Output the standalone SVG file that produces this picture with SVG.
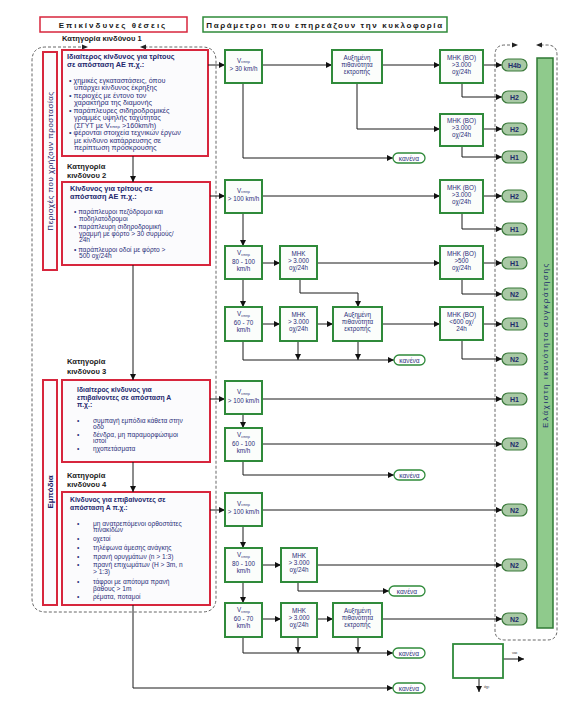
<svg xmlns="http://www.w3.org/2000/svg" width="570" height="703" viewBox="0 0 570 703">
<defs>
<marker id="ah" viewBox="0 0 10 10" refX="10" refY="5" markerWidth="6" markerHeight="6" orient="auto" markerUnits="userSpaceOnUse"><path d="M0,0 L10,5 L0,10 z" fill="#111"/></marker>
<style>
.rb{fill:#fbfbfd;stroke:#d7263d;stroke-width:2}
.gb{fill:#fbfdfb;stroke:#2f8a3a;stroke-width:2}
.pill{fill:#a9c9a5;stroke:#3b7a3b;stroke-width:1.2}
.kan{fill:#fff;stroke:#2f8a3a;stroke-width:1.3}
.ln{stroke:#1a1a1a;stroke-width:1;fill:none;marker-end:url(#ah)}
.dash{stroke:#555;stroke-width:0.9;fill:none;stroke-dasharray:3,2}
.t{font-family:"Liberation Sans",Arial,sans-serif;fill:#2b2f7a;font-size:7.2px}
.t2{font-family:"Liberation Sans",Arial,sans-serif;fill:#2b2f7a;font-size:6.6px}
.tb{font-family:"Liberation Sans",Arial,sans-serif;fill:#23286e;font-size:7.3px;font-weight:bold}
.tb2{font-family:"Liberation Sans",Arial,sans-serif;fill:#23286e;font-size:6.8px;font-weight:bold}
.g{font-family:"Liberation Sans",Arial,sans-serif;fill:#2b2f7a;font-size:6.3px;text-anchor:middle}
.p{font-family:"Liberation Sans",Arial,sans-serif;fill:#1d2a6b;font-size:7px;font-weight:bold;text-anchor:middle}
.k{font-family:"Liberation Sans",Arial,sans-serif;fill:#2b2f7a;font-size:6.6px;text-anchor:middle}
.cat{font-family:"Liberation Sans",Arial,sans-serif;fill:#1a1a1a;font-size:7.6px;font-weight:bold}
.hd{font-family:"Liberation Sans",Arial,sans-serif;fill:#1a1a1a;font-size:8px;font-weight:bold;letter-spacing:2px}
</style>
</defs>
<rect width="570" height="703" fill="#fff"/>

<g id="header-left"><rect x="40" y="17" width="147" height="15" fill="#fff" stroke="#d7263d" stroke-width="1.5"/><text class="hd" x="113" y="27.5" text-anchor="middle">Επικίνδυνες θέσεις</text></g>
<g id="header-right"><rect x="203" y="17" width="244" height="15" fill="#fff" stroke="#2f8a3a" stroke-width="1.5"/><text class="hd" x="325" y="27.5" text-anchor="middle" style="letter-spacing:1.6px">Παράμετροι που επηρεάζουν την κυκλοφορία</text></g>

<g id="region-left">
<path class="dash" d="M86,47 H46 Q32,47 32,61 V598 Q32,612 46,612 H202 Q216,612 216,598 V61 Q216,47 202,47 H142"/>
<path d="M82,44.5 L88,47 L82,49.5 z" fill="#222"/><path d="M146,44.5 L140,47 L146,49.5 z" fill="#222"/>
</g>
<g id="region-right">
<path class="dash" d="M515,45 H505 Q495,45 495,55 V630 Q495,640 505,640 H547 Q557,640 557,630 V55 Q557,45 547,45 H539"/>
<path d="M512,42.5 L518,45 L512,47.5 z" fill="#222"/><path d="M542,42.5 L536,45 L542,47.5 z" fill="#222"/>
</g>

<text class="cat" x="62" y="41">Κατηγορία κινδύνου 1</text>
<g><text class="cat" x="67" y="169">Κατηγορία</text><text class="cat" x="67" y="178">κινδύνου 2</text></g>
<g><text class="cat" x="67" y="364">Κατηγορία</text><text class="cat" x="67" y="374">κινδύνου 3</text></g>
<g><text class="cat" x="67" y="477.5">Κατηγορία</text><text class="cat" x="67" y="486.5">κινδύνου 4</text></g>

<g id="side-protect"><rect class="rb" x="43" y="52" width="14" height="218"/><text transform="translate(53,161) rotate(-90)" text-anchor="middle" style="font-family:'Liberation Sans',Arial,sans-serif;font-size:8px;fill:#1d2266;letter-spacing:0.5px">Περιοχές που χρήζουν προστασίας</text></g>
<g id="side-obstacles"><rect class="rb" x="43" y="380" width="14" height="225"/><text transform="translate(53,492) rotate(-90)" text-anchor="middle" style="font-family:'Liberation Sans',Arial,sans-serif;font-size:8px;font-weight:bold;fill:#1d2266">Εμπόδια</text></g>

<g id="cat1">
<rect class="rb" x="62" y="50" width="146" height="106"/>
<text class="tb" x="67" y="59">Ιδιαίτερος κίνδυνος για τρίτους</text>
<text class="tb" x="67" y="66.5">σε απόσταση ΑΕ π.χ.:</text>
<g class="t">
<text x="69" y="82.5">• χημικές εγκαταστάσεις, όπου</text>
<text x="74" y="90">υπάρχει κίνδυνος έκρηξης</text>
<text x="69" y="97.5">• περιοχές με έντονο τον</text>
<text x="74" y="105">χαρακτήρα της διαμονής</text>
<text x="69" y="112.5">• παράπλευρες σιδηροδρομικές</text>
<text x="74" y="120">γραμμές υψηλής ταχύτητας</text>
<text x="74" y="127.5">(ΣΓΥΤ με V<tspan font-size="4.3" dy="0.8">επιτρ</tspan><tspan dy="-0.8"> &gt;160km/h)</tspan></text>
<text x="69" y="135">• φέρονται στοιχεία τεχνικών έργων</text>
<text x="74" y="142.5">με κίνδυνο κατάρρευσης σε</text>
<text x="74" y="150">περίπτωση πρόσκρουσης</text>
</g>
</g>

<g id="cat2">
<rect class="rb" x="62" y="182" width="148" height="83"/>
<text class="tb" x="70" y="191">Κίνδυνος για τρίτους σε</text>
<text class="tb" x="70" y="198.5">απόσταση ΑΕ π.χ.:</text>
<g class="t2">
<text x="74" y="214">• παράπλευροι πεζόδρομοι και</text>
<text x="79" y="220.5">ποδηλατόδρομοι</text>
<text x="74" y="229">• παράπλευρη σιδηροδρομική</text>
<text x="79" y="235.5">γραμμή με φόρτο &gt; 30 συρμούς/</text>
<text x="79" y="242">24h</text>
<text x="74" y="251.5">• παράπλευροι οδοί με φόρτο &gt;</text>
<text x="79" y="258">500 οχ/24h</text>
</g>
</g>

<g id="cat3">
<rect class="rb" x="62" y="380" width="148" height="82"/>
<text class="tb2" x="77" y="392">Ιδιαίτερος κίνδυνος για</text>
<text class="tb2" x="77" y="399.5">επιβαίνοντες σε απόσταση Α</text>
<text class="tb2" x="77" y="407">π.χ.:</text>
<g class="t2">
<text x="77" y="422.5">•</text><text x="93" y="422.5">συμπαγή εμπόδια κάθετα στην</text>
<text x="93" y="428.7">οδό</text>
<text x="77" y="436.5">•</text><text x="93" y="436.5">δένδρα, μη παραμορφώσιμοι</text>
<text x="93" y="442.7">ιστοί</text>
<text x="77" y="450.5">•</text><text x="93" y="450.5">ηχοπετάσματα</text>
</g>
</g>

<g id="cat4">
<rect class="rb" x="62" y="492" width="148" height="113"/>
<text class="tb2" x="70" y="502">Κίνδυνος για επιβαίνοντες σε</text>
<text class="tb2" x="70" y="509.8">απόσταση Α π.χ.:</text>
<g class="t2">
<text x="77" y="525.5">•</text><text x="93" y="525.5">μη ανατρεπόμενοι ορθοστάτες</text>
<text x="93" y="532">πινακίδων</text>
<text x="77" y="540.5">•</text><text x="93" y="540.5">οχετοί</text>
<text x="77" y="550">•</text><text x="93" y="550">τηλέφωνα άμεσης ανάγκης</text>
<text x="77" y="558.5">•</text><text x="93" y="558.5">πρανή ορυγμάτων (n &gt; 1:3)</text>
<text x="77" y="567">•</text><text x="93" y="567">πρανή επιχωμάτων (H &gt; 3m, n</text>
<text x="93" y="574">&gt; 1:3)</text>
<text x="77" y="583.5">•</text><text x="93" y="583.5">τάφροι με απότομα πρανή</text>
<text x="93" y="590.5">βάθους &gt; 1m</text>
<text x="77" y="598.5">•</text><text x="93" y="598.5">ρέματα, ποταμοί</text>
</g>
</g>

<g id="connectors">
<path class="ln" d="M133,156 V182"/>
<path class="ln" d="M133,265 V380"/>
<path class="ln" d="M133,462 V492"/>
<path class="ln" d="M133,605 V688 H393"/>
<path class="ln" d="M208,65 H225"/>
<path class="ln" d="M210,196 H225"/>
<path class="ln" d="M210,399 H225"/>
<path class="ln" d="M210,510 H225"/>
<path class="ln" d="M262,65 H332"/>
<path class="ln" d="M382,65 H440"/>
<path class="ln" d="M357,83 V129 H440"/>
<path class="ln" d="M243,83 V158 H393"/>
<path class="ln" d="M483,65 H502"/>
<path class="ln" d="M462,83 V97 H502"/>
<path class="ln" d="M483,129 H502"/>
<path class="ln" d="M462,146 V157 H502"/>
<path class="ln" d="M262,196 H440"/>
<path class="ln" d="M483,196 H502"/>
<path class="ln" d="M462,213 V229 H502"/>
<path class="ln" d="M243,213 V246"/>
<path class="ln" d="M262,263 H280"/>
<path class="ln" d="M317,263 H440"/>
<path class="ln" d="M483,263 H502"/>
<path class="ln" d="M462,279 V294 H502"/>
<path class="ln" d="M300,279 V293 H358 V307"/>
<path class="ln" d="M243,279 V307"/>
<path class="ln" d="M262,324 H280"/>
<path class="ln" d="M317,324 H333"/>
<path class="ln" d="M382,324 H440"/>
<path class="ln" d="M483,324 H502"/>
<path class="ln" d="M462,340 V359 H502"/>
<path class="ln" d="M243,341 V360 H394"/>
<path class="ln" d="M298,341 V360"/>
<path class="ln" d="M358,341 V360"/>
<path class="ln" d="M262,399 H502"/>
<path class="ln" d="M243,414 V428"/>
<path class="ln" d="M262,444 H502"/>
<path class="ln" d="M243,461 V475 H394"/>
<path class="ln" d="M262,510 H502"/>
<path class="ln" d="M243,526 V548"/>
<path class="ln" d="M262,565 H281"/>
<path class="ln" d="M317,565 H502"/>
<path class="ln" d="M298,582 V591 H389"/>
<path class="ln" d="M243,582 V603"/>
<path class="ln" d="M262,619 H281"/>
<path class="ln" d="M317,619 H333"/>
<path class="ln" d="M382,619 H502"/>
<path class="ln" d="M243,637 V653 H393"/>
<path class="ln" d="M298,637 V653"/>
<path class="ln" d="M358,637 V653"/>
<path class="ln" d="M503,659 H524"/>
<path class="ln" d="M479,678 V692"/>
</g>

<g id="v30"><rect class="gb" x="225" y="50" width="37" height="33"/><text class="g" x="243.5" y="62.5">V<tspan font-size="3.8" dy="0.8">επιτρ</tspan></text><text class="g" x="243.5" y="71">&gt; 30 km/h</text></g>
<g id="aux1"><rect class="gb" x="332" y="50" width="50" height="33"/><text class="g" x="357" y="60">Αυξημένη</text><text class="g" x="357" y="67">πιθανότητα</text><text class="g" x="357" y="74">εκτροπής</text></g>
<g id="mhkbo1"><rect class="gb" x="440" y="50" width="43" height="33"/><text class="g" x="461.5" y="60">ΜΗΚ (ΒΟ)</text><text class="g" x="461.5" y="67">&gt;3.000</text><text class="g" x="461.5" y="74">οχ/24h</text></g>
<g id="mhkbo2"><rect class="gb" x="440" y="114" width="43" height="32"/><text class="g" x="461.5" y="123">ΜΗΚ (ΒΟ)</text><text class="g" x="461.5" y="130">&gt;3.000</text><text class="g" x="461.5" y="137">οχ/24h</text></g>

<g id="v100a"><rect class="gb" x="225" y="180" width="37" height="33"/><text class="g" x="243.5" y="192.5">V<tspan font-size="3.8" dy="0.8">επιτρ</tspan></text><text class="g" x="243.5" y="201">&gt; 100 km/h</text></g>
<g id="mhkbo3"><rect class="gb" x="440" y="180" width="43" height="33"/><text class="g" x="461.5" y="190">ΜΗΚ (ΒΟ)</text><text class="g" x="461.5" y="197">&gt;3.000</text><text class="g" x="461.5" y="204">οχ/24h</text></g>
<g id="v80a"><rect class="gb" x="225" y="246" width="37" height="33"/><text class="g" x="243.5" y="255">V<tspan font-size="3.8" dy="0.8">επιτρ</tspan></text><text class="g" x="243.5" y="263.5">80 - 100</text><text class="g" x="243.5" y="270.5">km/h</text></g>
<g id="mhka"><rect class="gb" x="280" y="246" width="37" height="33"/><text class="g" x="298.5" y="256">ΜΗΚ</text><text class="g" x="298.5" y="263">&gt; 3.000</text><text class="g" x="298.5" y="270">οχ/24h</text></g>
<g id="mhkbo4"><rect class="gb" x="440" y="246" width="43" height="33"/><text class="g" x="461.5" y="256">ΜΗΚ (ΒΟ)</text><text class="g" x="461.5" y="263">&gt;500</text><text class="g" x="461.5" y="270">οχ/24h</text></g>
<g id="v60a"><rect class="gb" x="225" y="307" width="37" height="34"/><text class="g" x="243.5" y="316">V<tspan font-size="3.8" dy="0.8">επιτρ</tspan></text><text class="g" x="243.5" y="324.5">60 - 70</text><text class="g" x="243.5" y="331.5">km/h</text></g>
<g id="mhkb"><rect class="gb" x="280" y="307" width="37" height="34"/><text class="g" x="298.5" y="317">ΜΗΚ</text><text class="g" x="298.5" y="324">&gt; 3.000</text><text class="g" x="298.5" y="331">οχ/24h</text></g>
<g id="aux2"><rect class="gb" x="333" y="307" width="49" height="34"/><text class="g" x="357.5" y="317">Αυξημένη</text><text class="g" x="357.5" y="324">πιθανότητα</text><text class="g" x="357.5" y="331">εκτροπής</text></g>
<g id="mhkbo5"><rect class="gb" x="440" y="307" width="43" height="33"/><text class="g" x="461.5" y="317">ΜΗΚ (ΒΟ)</text><text class="g" x="461.5" y="324">&lt;600 οχ/</text><text class="g" x="461.5" y="331">24h</text></g>

<g id="v100b"><rect class="gb" x="225" y="381" width="37" height="33"/><text class="g" x="243.5" y="394">V<tspan font-size="3.8" dy="0.8">επιτρ</tspan></text><text class="g" x="243.5" y="402.5">&gt; 100 km/h</text></g>
<g id="v60b"><rect class="gb" x="225" y="428" width="37" height="33"/><text class="g" x="243.5" y="437">V<tspan font-size="3.8" dy="0.8">επιτρ</tspan></text><text class="g" x="243.5" y="445.5">60 - 100</text><text class="g" x="243.5" y="452.5">km/h</text></g>

<g id="v100c"><rect class="gb" x="225" y="493" width="37" height="33"/><text class="g" x="243.5" y="505.5">V<tspan font-size="3.8" dy="0.8">επιτρ</tspan></text><text class="g" x="243.5" y="514">&gt; 100 km/h</text></g>
<g id="v80b"><rect class="gb" x="225" y="548" width="37" height="34"/><text class="g" x="243.5" y="557">V<tspan font-size="3.8" dy="0.8">επιτρ</tspan></text><text class="g" x="243.5" y="565.5">80 - 100</text><text class="g" x="243.5" y="572.5">km/h</text></g>
<g id="mhkc"><rect class="gb" x="281" y="548" width="36" height="34"/><text class="g" x="299" y="558">ΜΗΚ</text><text class="g" x="299" y="565">&gt; 3.000</text><text class="g" x="299" y="572">οχ/24h</text></g>
<g id="v60c"><rect class="gb" x="225" y="603" width="37" height="34"/><text class="g" x="243.5" y="612">V<tspan font-size="3.8" dy="0.8">επιτρ</tspan></text><text class="g" x="243.5" y="620.5">60 - 70</text><text class="g" x="243.5" y="627.5">km/h</text></g>
<g id="mhkd"><rect class="gb" x="281" y="603" width="36" height="34"/><text class="g" x="299" y="613">ΜΗΚ</text><text class="g" x="299" y="620">&gt; 3.000</text><text class="g" x="299" y="627">οχ/24h</text></g>
<g id="aux3"><rect class="gb" x="333" y="603" width="49" height="34"/><text class="g" x="357.5" y="613">Αυξημένη</text><text class="g" x="357.5" y="620">πιθανότητα</text><text class="g" x="357.5" y="627">εκτροπής</text></g>

<g id="kan1"><rect class="kan" x="393" y="153" width="32" height="10" rx="5"/><text class="k" x="409" y="160.5">κανένα</text></g>
<g id="kan2"><rect class="kan" x="394" y="355" width="31" height="10" rx="5"/><text class="k" x="409.5" y="362.5">κανένα</text></g>
<g id="kan3"><rect class="kan" x="394" y="470" width="31" height="10" rx="5"/><text class="k" x="409.5" y="477.5">κανένα</text></g>
<g id="kan4"><rect class="kan" x="389" y="586" width="36" height="10" rx="5"/><text class="k" x="407" y="593.5">κανένα</text></g>
<g id="kan5"><rect class="kan" x="393" y="648" width="32" height="10" rx="5"/><text class="k" x="409" y="655.5">κανένα</text></g>
<g id="kan6"><rect class="kan" x="393" y="683" width="32" height="10" rx="5"/><text class="k" x="409" y="690.5">κανένα</text></g>

<g id="p1"><rect class="pill" x="502" y="59" width="25" height="12" rx="6"/><text class="p" x="514.5" y="67.5">H4b</text></g>
<g id="p2"><rect class="pill" x="502" y="91" width="25" height="12" rx="6"/><text class="p" x="514.5" y="99.5">H2</text></g>
<g id="p3"><rect class="pill" x="502" y="123" width="25" height="12" rx="6"/><text class="p" x="514.5" y="131.5">H2</text></g>
<g id="p4"><rect class="pill" x="502" y="151" width="25" height="12" rx="6"/><text class="p" x="514.5" y="159.5">H1</text></g>
<g id="p5"><rect class="pill" x="502" y="190" width="25" height="12" rx="6"/><text class="p" x="514.5" y="198.5">H2</text></g>
<g id="p6"><rect class="pill" x="502" y="223" width="25" height="12" rx="6"/><text class="p" x="514.5" y="231.5">H1</text></g>
<g id="p7"><rect class="pill" x="502" y="257" width="25" height="12" rx="6"/><text class="p" x="514.5" y="265.5">H1</text></g>
<g id="p8"><rect class="pill" x="502" y="288" width="25" height="12" rx="6"/><text class="p" x="514.5" y="296.5">N2</text></g>
<g id="p9"><rect class="pill" x="502" y="318" width="25" height="12" rx="6"/><text class="p" x="514.5" y="326.5">H1</text></g>
<g id="p10"><rect class="pill" x="502" y="353" width="25" height="12" rx="6"/><text class="p" x="514.5" y="361.5">N2</text></g>
<g id="p11"><rect class="pill" x="502" y="393" width="25" height="12" rx="6"/><text class="p" x="514.5" y="401.5">H1</text></g>
<g id="p12"><rect class="pill" x="502" y="438" width="25" height="12" rx="6"/><text class="p" x="514.5" y="446.5">N2</text></g>
<g id="p13"><rect class="pill" x="502" y="504" width="25" height="12" rx="6"/><text class="p" x="514.5" y="512.5">N2</text></g>
<g id="p14"><rect class="pill" x="502" y="559" width="25" height="12" rx="6"/><text class="p" x="514.5" y="567.5">N2</text></g>
<g id="p15"><rect class="pill" x="502" y="613" width="25" height="12" rx="6"/><text class="p" x="514.5" y="621.5">N2</text></g>

<g id="bar"><rect x="537" y="58" width="16" height="570" fill="#8fca8c" stroke="#2f7a34" stroke-width="1.5"/><text transform="translate(548,345) rotate(-90)" text-anchor="middle" style="font-family:'Liberation Sans',Arial,sans-serif;font-size:8px;fill:#1d2a6b;letter-spacing:1.6px">Ελάχιστη ικανότητα συγκράτησης</text></g>

<g id="legend"><rect x="453" y="644" width="50" height="34" fill="#fff" stroke="#2f8a3a" stroke-width="1.8"/><text x="512" y="654" style="font-family:'Liberation Sans',Arial,sans-serif;font-size:4px;fill:#333">ναι</text><text x="484" y="688" style="font-family:'Liberation Sans',Arial,sans-serif;font-size:4px;fill:#333">όχι</text></g>
</svg>
